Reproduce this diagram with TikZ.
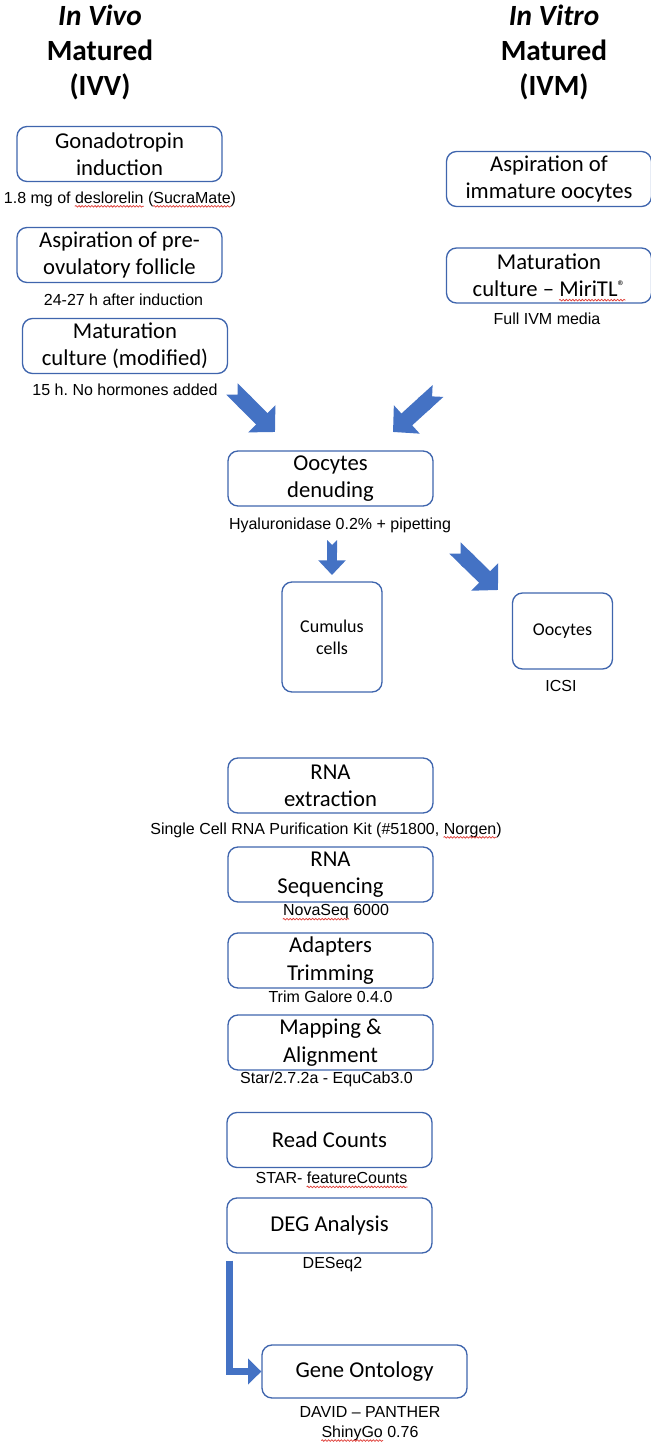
\documentclass[tikz,border=0pt]{standalone}
\usepackage{fontspec}
\setmainfont{Carlito}
\newfontfamily\arialfont{Liberation Sans}
\usetikzlibrary{arrows.meta,decorations.pathmorphing}
\definecolor{boxblue}{HTML}{3F65AD}
\definecolor{arrowblue}{HTML}{4472C4}
\definecolor{spellred}{HTML}{E0403A}
\newcommand\spellmark[1]{\tikz[baseline=(w.base)]{\node[inner sep=0pt, minimum size=0pt, draw=none] (w) {#1};
  \draw[overlay, spellred, line width=0.55pt, sharp corners, decorate, decoration={snake, amplitude=0.6pt, segment length=2.4pt}]
    ([yshift=-2.4pt]w.base west) -- ([yshift=-2.4pt]w.base east);}}
\frenchspacing

\begin{document}
\begin{tikzpicture}[x=0.75pt, y=-0.75pt,
    stepbox/.style={draw=boxblue, line width=1pt, rounded corners=7.5pt,
      minimum width=153.75pt, minimum height=41.25pt, inner sep=0pt,
      align=center, font=\fontsize{17}{20.5}\selectfont},
    cellbox/.style={stepbox, minimum width=75pt, font=\fontsize{13.5}{16.5}\selectfont},
    note/.style={inner sep=0pt, align=center, font=\arialfont\fontsize{12}{15}\selectfont},
    heading/.style={inner sep=0pt, align=center, font=\bfseries\fontsize{22}{26.5}\selectfont},
    bigarrow/.style={draw=arrowblue, line width=12pt,
      {Triangle Cap[reversed]}-{Triangle[width=28pt,length=14pt]}},
    smallarrow/.style={draw=arrowblue, line width=7.5pt,
      {Triangle Cap[reversed]}-{Triangle[width=20pt,length=11pt]}},
    elbowarrow/.style={draw=arrowblue, line width=5pt, -{Triangle[width=19pt,length=10pt]}}]
    \useasboundingbox (0,0) rectangle (650,1448);

    % the two groups
    \node[heading] (ivv) at (100,52.5) {\itshape In Vivo\\Matured\\(IVV)};
    \node[heading] (ivm) at (554,52.5) {\itshape In Vitro\\Matured\\(IVM)};

    % in vivo side
    \node[stepbox] (gonad) at (119.5,154) {Gonadotropin\\induction};
    \node[note] (gonadnote) at (120,199) {1.8 mg of \spellmark{deslorelin} (\spellmark{SucraMate})};
    \node[stepbox] (asppre) at (119.5,255) {Aspiration of pre-\\ovulatory follicle};
    \node[note] (asppreNote) at (123.5,300) {24-27 h after induction};
    \node[stepbox] (matmod) at (125,346) {Maturation\\culture (modified)};
    \node[note] (matmodNote) at (125,390) {15 h. No hormones added};

    % in vitro side
    \node[stepbox] (aspimm) at (549,179) {Aspiration of\\immature oocytes};
    \node[stepbox] (matmiri) at (549,275.5) {Maturation\\culture – \spellmark{MiriTL\raisebox{0.5ex}{\fontsize{11.5}{11.5}\selectfont ®}}};
    \node[note] (matmiriNote) at (547,319) {Full IVM media};

    % denuding
    \node[stepbox] (denude) at (330.5,478.5) {Oocytes\\denuding};
    \node[note] (denudeNote) at (340,525) {Hyaluronidase 0.2\% + pipetting};
    \node[cellbox, minimum height=82.5pt] (cumulus) at (332,637) {Cumulus\\cells};
    \node[cellbox, minimum height=57pt] (oocytes) at (562.5,631) {Oocytes};
    \node[note] (icsi) at (561,686) {ICSI};

    \coordinate (ivvTail) at (232,389);
    \coordinate (ivvTip) at (275,432);
    \coordinate (ivmTail) at (438,391);
    \coordinate (ivmTip) at (393,432);
    \coordinate (cumTail) at (332,540);
    \coordinate (cumTip) at (332,575);
    \coordinate (oocTail) at (455,548);
    \coordinate (oocTip) at (498,590);
    \draw[bigarrow] (ivvTail) -- (ivvTip);
    \draw[bigarrow] (ivmTail) -- (ivmTip);
    \draw[smallarrow] (cumTail) -- (cumTip);
    \draw[bigarrow] (oocTail) -- (oocTip);

    % sequencing pipeline
    \node[stepbox] (rnaext) at (330.5,785.5) {RNA\\extraction};
    \node[note] (rnaextNote) at (326,830) {Single Cell RNA Purification Kit (\#51800, \spellmark{Norgen})};
    \node[stepbox] (rnaseq) at (330.5,874.5) {RNA\\Sequencing};
    \node[note] (rnaseqNote) at (336,912) {\spellmark{NovaSeq} 6000};
    \node[stepbox] (trim) at (330.5,960.5) {Adapters\\Trimming};
    \node[note] (trimNote) at (330.5,997) {Trim Galore 0.4.0};
    \node[stepbox] (mapping) at (330.5,1042.5) {Mapping \&\\Alignment};
    \node[note] (mappingNote) at (326.5,1079) {Star/2.7.2a - EquCab3.0};
    \node[stepbox] (counts) at (329.5,1140) {Read Counts};
    \node[note] (countsNote) at (331.5,1178) {STAR- \spellmark{featureCounts}};
    \node[stepbox] (deg) at (329.5,1225.5) {DEG Analysis};
    \node[note] (degNote) at (332.5,1265) {DESeq2};
    \node[stepbox, minimum height=39.75pt] (gene) at (364.5,1371.5) {Gene Ontology};
    \node[note] (geneNote) at (370,1423.5) {DAVID – PANTHER\\\spellmark{ShinyGo} 0.76};

    \draw[elbowarrow] ([xshift=2.25pt,yshift=-5.25pt]deg.south west) |- (gene.west);
\end{tikzpicture}
\end{document}
